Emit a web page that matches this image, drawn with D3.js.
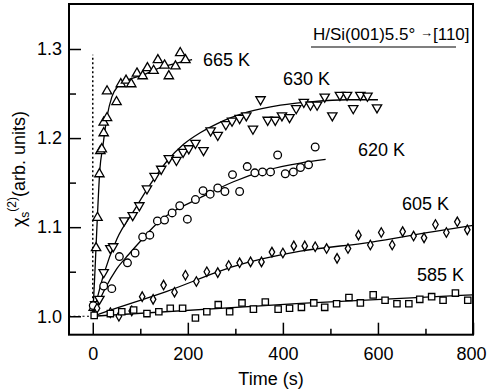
<!DOCTYPE html>
<html>
<head>
<meta charset="utf-8">
<script src="https://cdn.jsdelivr.net/npm/d3@7"></script>
<style>
  html, body { margin: 0; padding: 0; background: #fff; }
  svg { display: block; font-family: "Liberation Sans", Arial, Helvetica, sans-serif; }
</style>
</head>
<body>
<svg id="chart" width="487" height="390"></svg>
<script>
// measured points, [time (s), chi_s^(2) in arb. units]
const data665 = [[2,1.011],[7,1.078],[10,1.112],[14,1.161],[16,1.187],[19,1.189],[23,1.207],[23,1.219],
  [30,1.224],[30,1.254],[50,1.242],[59,1.262],[70,1.266],[81,1.262],[93,1.274],[105,1.271],[115,1.280],
  [128,1.277],[137,1.289],[151,1.283],[160,1.271],[174,1.282],[184,1.297],[195,1.289]];
const data630 = [[5,1.012],[14,1.018],[23,1.048],[37,1.075],[43,1.077],[66,1.106],[84,1.112],[98,1.123],
  [114,1.142],[130,1.156],[144,1.164],[160,1.176],[176,1.174],[190,1.183],[202,1.187],[216,1.193],
  [233,1.185],[248,1.207],[263,1.202],[280,1.214],[293,1.218],[309,1.221],[323,1.224],[337,1.209],
  [353,1.242],[368,1.219],[384,1.219],[398,1.224],[414,1.222],[428,1.232],[444,1.239],[458,1.236],
  [472,1.236],[488,1.245],[504,1.224],[520,1.247],[535,1.247],[548,1.232],[563,1.247],[578,1.246],[598,1.233]];
const data620 = [[1,1.012],[23,1.034],[40,1.031],[56,1.067],[73,1.060],[89,1.071],[105,1.089],[120,1.091],
  [136,1.107],[151,1.108],[167,1.116],[183,1.124],[199,1.109],[216,1.131],[232,1.141],[247,1.137],
  [263,1.144],[278,1.140],[294,1.159],[309,1.140],[325,1.168],[341,1.161],[357,1.162],[374,1.162],
  [389,1.181],[405,1.160],[422,1.162],[437,1.167],[454,1.170],[468,1.190]];
const data605 = [[9,1.009],[37,1.004],[55,1.000],[82,1.006],[104,1.022],[127,1.019],[149,1.035],[172,1.027],
  [195,1.046],[218,1.039],[240,1.050],[263,1.049],[286,1.057],[309,1.060],[332,1.061],[355,1.061],
  [377,1.072],[400,1.071],[423,1.079],[446,1.079],[468,1.078],[492,1.076],[514,1.065],[537,1.076],
  [559,1.091],[584,1.080],[607,1.094],[630,1.080],[652,1.095],[675,1.090],[697,1.088],[721,1.103],
  [744,1.094],[767,1.106],[788,1.097]];
const data585 = [[3,1.001],[37,1.003],[61,1.005],[86,1.007],[114,1.003],[139,1.005],[163,1.009],[189,1.009],
  [216,0.998],[240,1.005],[264,1.013],[288,1.005],[314,1.015],[338,1.008],[363,1.016],[390,1.008],
  [414,1.009],[439,1.010],[465,1.015],[488,1.010],[513,1.014],[539,1.021],[563,1.015],[590,1.024],
  [615,1.018],[640,1.014],[665,1.014],[688,1.019],[713,1.022],[737,1.018],[763,1.026],[789,1.018]];

// fitted curves
const fit665 = [[0,1.0],[5,1.055],[10,1.115],[15,1.165],[21,1.19],[30,1.224],[40,1.246],[54,1.259],
  [72,1.265],[107,1.271],[142,1.279],[177,1.284],[209,1.288]];
const fit630 = [[0,1.0],[23,1.047],[51,1.087],[86,1.118],[121,1.148],[156,1.174],[191,1.193],[226,1.206],
  [261,1.216],[325,1.229],[395,1.237],[463,1.241],[535,1.243],[600,1.243]];
const fit620 = [[0,1.0],[25,1.03],[50,1.053],[75,1.069],[105,1.087],[135,1.104],[156,1.113],[226,1.133],
  [296,1.151],[366,1.164],[437,1.172],[490,1.176]];
const fit605 = [[0,1.0],[16,1.003],[156,1.028],[297,1.056],[437,1.073],[584,1.083],[717,1.095],[800,1.102]];
const fit585 = [[0,1.0],[437,1.0145],[800,1.024]];

const temps = ['665 K', '630 K', '620 K', '605 K', '585 K'];
const xTicks = [0, 200, 400, 600, 800];
const xMinor = [100, 300, 500, 700];
const yTicks = [1.0, 1.1, 1.2, 1.3];
const yMinor = [1.05, 1.15, 1.25];

const svg = d3.select('#chart');
const box = { left: 69, right: 473, top: 4, bottom: 334.7 };

const x = d3.scaleLinear().domain([-50, 800]).range([box.left, box.right]);
const y = d3.scaleLinear().domain([0.9793, 1.3505]).range([box.bottom, box.top]);

// axes, ticks pointing into the plot
const gx = svg.append('g').attr('transform', `translate(0,${box.bottom})`)
  .call(d3.axisBottom(x).tickValues(xTicks).tickSize(-12).tickPadding(13).tickFormat(d3.format('d')));
const gxm = svg.append('g').attr('transform', `translate(0,${box.bottom})`)
  .call(d3.axisBottom(x).tickValues(xMinor).tickSize(-6).tickFormat(''));
const gy = svg.append('g').attr('transform', `translate(${box.left},0)`)
  .call(d3.axisLeft(y).tickValues(yTicks).tickSize(-12).tickPadding(7).tickFormat(d3.format('.1f')));
const gym = svg.append('g').attr('transform', `translate(${box.left},0)`)
  .call(d3.axisLeft(y).tickValues(yMinor).tickSize(-7).tickFormat(''));

[gx, gxm, gy, gym].forEach(g => {
  g.select('.domain').remove();
  g.selectAll('line').attr('stroke', '#000').attr('stroke-width', 1.5);
  g.selectAll('text').attr('fill', '#000').style('font-size', '18px')
    .style('font-family', '"Liberation Sans", Arial, Helvetica, sans-serif');
});
// last label sits on the right edge of the window
gx.selectAll('.tick text').filter(d => d === 800).attr('dx', -2);

// dotted guides at t = 0 and baseline
svg.append('line')
  .attr('x1', x(0)).attr('x2', x(0)).attr('y1', y(1.0)).attr('y2', y(1.2935))
  .attr('stroke', '#000').attr('stroke-width', 1.5).attr('stroke-dasharray', '2,2.5');
svg.append('line')
  .attr('x1', x(-50)).attr('x2', x(0)).attr('y1', y(1.0)).attr('y2', y(1.0))
  .attr('stroke', '#000').attr('stroke-width', 1.2).attr('stroke-dasharray', '2,2.5');

// fit curves
const line = d3.line().x(d => x(d[0])).y(d => y(d[1])).curve(d3.curveMonotoneX);
svg.append('g').selectAll('path')
  .data([fit665, fit630, fit620, fit605, fit585])
  .join('path')
  .attr('d', line)
  .attr('fill', 'none')
  .attr('stroke', '#000')
  .attr('stroke-width', 1.3);

// markers
const series = [
  { pts: data665, type: d3.symbolTriangle, size: 38, rot: 0, dy: 1.2 },
  { pts: data630, type: d3.symbolTriangle, size: 38, rot: 180, dy: -1.2 },
  { pts: data620, type: d3.symbolCircle, size: 46, rot: 0, dy: 0 },
  { pts: data605, type: d3.symbolDiamond, size: 26, rot: 0, dy: 0 },
  { pts: data585, type: d3.symbolSquare, size: 40, rot: 0, dy: 0 }
];
series.forEach(s => {
  svg.append('g').selectAll('path')
    .data(s.pts)
    .join('path')
    .attr('d', d3.symbol().type(s.type).size(s.size))
    .attr('transform', d => `translate(${x(d[0])},${y(d[1]) + s.dy}) rotate(${s.rot})`)
    .attr('fill', '#fff')
    .attr('stroke', '#000')
    .attr('stroke-width', 1.3);
});

// temperature labels
const labelPos = [[203, 66], [283, 85], [358, 156], [402, 210], [417, 281]];
svg.append('g').selectAll('text')
  .data(temps)
  .join('text')
  .attr('x', (d, i) => labelPos[i][0])
  .attr('y', (d, i) => labelPos[i][1])
  .style('font-size', '18px')
  .text(d => d);

// frame
svg.append('rect')
  .attr('x', box.left).attr('y', box.top)
  .attr('width', box.right - box.left).attr('height', box.bottom - box.top)
  .attr('fill', 'none').attr('stroke', '#000').attr('stroke-width', 2);

// title, underlined
const title = svg.append('text').attr('x', 313).attr('y', 40).style('font-size', '17px');
title.append('tspan').text('H/Si(001)5.5° ');
title.append('tspan').style('font-size', '13px').attr('dy', -3).text('→');
title.append('tspan').attr('dy', 3).text('[110]');
svg.append('line')
  .attr('x1', 311).attr('x2', 456).attr('y1', 47).attr('y2', 47)
  .attr('stroke', '#000').attr('stroke-width', 1.2);

// axis titles
svg.append('text')
  .attr('x', (box.left + box.right) / 2).attr('y', 385)
  .attr('text-anchor', 'middle')
  .style('font-size', '18px')
  .text('Time (s)');

const yl = svg.append('text')
  .attr('transform', 'translate(25,169) rotate(-90)')
  .attr('text-anchor', 'middle')
  .style('font-size', '18px');
yl.append('tspan').text('χ');
yl.append('tspan').attr('dy', 4).style('font-size', '12px').text('s');
yl.append('tspan').attr('dy', -13).style('font-size', '12px').text('(2)');
yl.append('tspan').attr('dy', 9).text('(arb. units)');
</script>
</body>
</html>
